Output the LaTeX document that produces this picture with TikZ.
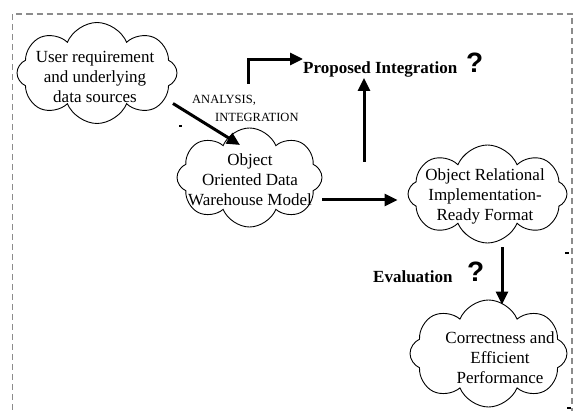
\documentclass[tikz,border=0pt]{standalone}
\usepackage{fontspec}
\setmainfont{Liberation Serif}
\newfontfamily\qfont{Liberation Sans}
\usetikzlibrary{shapes.symbols,arrows.meta}
\begin{document}
\begin{tikzpicture}[x=1pt,y=-1pt,
  cloudbox/.style={cloud, cloud puffs=8, cloud puff arc=135, cloud ignores aspect, draw, line width=0.9pt, inner sep=0pt},
  ctext/.style={align=center, font=\fontsize{17}{20}\selectfont, inner sep=0pt},
  arr/.style={line width=3pt, line join=miter, -{Triangle[length=13pt,width=12pt]}},
  lbl/.style={font=\fontsize{17}{20}\selectfont\bfseries, inner sep=0pt, anchor=base west},
  qm/.style={font=\qfont\fontsize{28}{28}\selectfont\bfseries, inner sep=0pt, anchor=base west},
  small/.style={font=\fontsize{12.5}{14}\selectfont, inner sep=0pt, anchor=base west}]
\useasboundingbox (0,0) rectangle (573,411);
\draw[gray!90, line width=1.8pt, dash pattern=on 6pt off 4pt] (12.5,420) -- (12.5,14) -- (572,14) -- (572,420);
% clouds
\node[cloudbox, minimum width=160pt, minimum height=101pt] (c1) at (97,73) {};
\node[ctext] (t1) at (95,77) {User requirement\\and underlying\\data sources};
\node[cloudbox, minimum width=145pt, minimum height=99pt] (c2) at (249.5,177.5) {};
\node[ctext] (t2) at (250,180) {Object\\Oriented Data\\Warehouse Model};
\node[cloudbox, minimum width=159pt, minimum height=98pt] (c3) at (487.5,194) {};
\node[ctext] (t3) at (485,196) {Object Relational\\Implementation-\\Ready Format};
\node[cloudbox, minimum width=157pt, minimum height=107pt] (c4) at (488.5,353.5) {};
\node[ctext] (t4) at (500,358) {Correctness and\\Efficient\\Performance};
% labels
\node[small] (an) at (192,104) {ANALYSIS,};
\node[small] (in) at (215,122) {INTEGRATION};
\node[lbl] (p) at (303,74) {Proposed Integration};
\node[qm] (q1) at (466,73) {?};
\node[lbl] (ev) at (373,283) {Evaluation};
\node[qm] (q2) at (467,282) {?};
% free ends
\coordinate (bstart) at (248,84);
\coordinate (vstart) at (364,162);
% connectors
\draw[arr] ([xshift=76pt,yshift=-30.5pt]c1.center) -- ([xshift=-9.5pt,yshift=32.5pt]c2.center);
\draw[arr] ([yshift=-22.5pt]c2.east) -- ([xshift=-10pt,yshift=-6pt]c3.west);
\draw[arr] (vstart) -- (vstart |- p.south);
\draw[arr] (bstart) |- ([yshift=3pt]p.north west);
\draw[arr] ([xshift=14.5pt,yshift=-4pt]c3.south) -- ([xshift=13.5pt,yshift=-5pt]c4.north);
% stray marks
\fill (179,125) rectangle (182,127.5);
\fill (565,252) rectangle (569,254.5);
\fill (567,407) rectangle (571,409.5);
\end{tikzpicture}
\end{document}
